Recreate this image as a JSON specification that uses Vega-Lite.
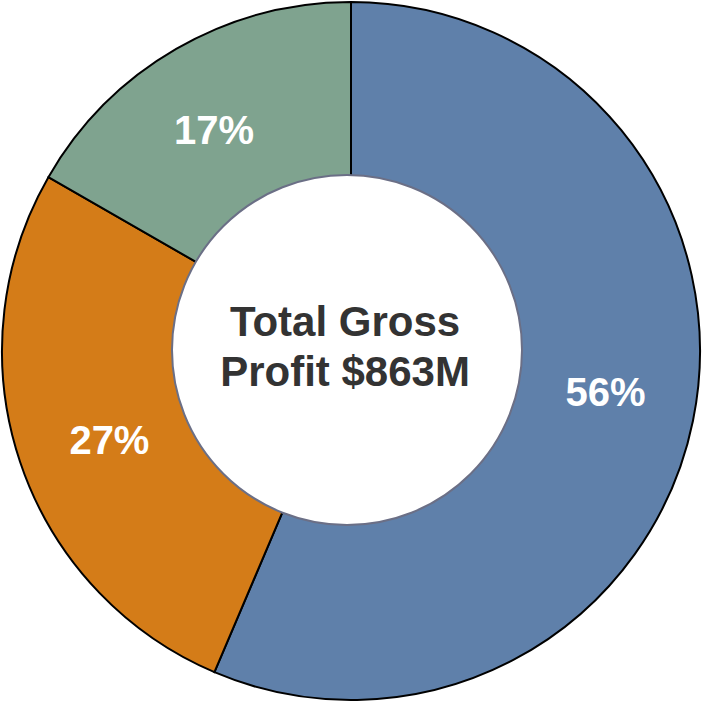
{
  "$schema": "https://vega.github.io/schema/vega-lite/v6.json",
  "description": "Donut chart of gross profit share by segment",
  "width": 702,
  "height": 702,
  "padding": 0,
  "autosize": "none",
  "background": "white",
  "config": {"view": {"stroke": null}, "font": "Liberation Sans"},
  "layer": [
    {
      "data": {
        "values": [
          {"segment": "A", "share": 56.4, "label": "56%"},
          {"segment": "B", "share": 26.9, "label": "27%"},
          {"segment": "C", "share": 16.7, "label": "17%"}
        ]
      },
      "encoding": {
        "theta": {"field": "share", "type": "quantitative", "stack": true},
        "order": {"field": "segment", "type": "nominal", "sort": "ascending"}
      },
      "layer": [
        {
          "mark": {"type": "arc", "outerRadius": 349, "stroke": "#000000", "strokeWidth": 2},
          "encoding": {
            "color": {
              "field": "segment",
              "type": "nominal",
              "scale": {"domain": ["A", "B", "C"], "range": ["#5f80aa", "#d47c18", "#7fa38f"]},
              "legend": null
            }
          }
        },
        {
          "mark": {"type": "text", "radius": 258, "thetaOffset": -0.035, "fontSize": 40, "fontWeight": "bold", "color": "white"},
          "encoding": {
            "detail": {"field": "segment", "type": "nominal"},
            "text": {"field": "label", "type": "nominal"}
          }
        }
      ]
    },
    {
      "data": {"values": [{"part": "center", "v": 1, "caption": ["Total Gross", "Profit $863M"]}]},
      "layer": [
        {
          "mark": {"type": "arc", "radius": 175, "fill": "white", "stroke": "#6b6f86", "strokeWidth": 2, "xOffset": -4, "yOffset": -1},
          "encoding": {
            "theta": {"field": "v", "type": "quantitative"}
          }
        },
        {
          "mark": {"type": "text", "fontSize": 42, "fontWeight": "bold", "color": "#333333", "lineHeight": 50, "dx": -6, "dy": -28},
          "encoding": {
            "text": {"field": "caption", "type": "nominal"}
          }
        }
      ]
    }
  ],
  "resolve": {"scale": {"theta": "independent"}}
}
